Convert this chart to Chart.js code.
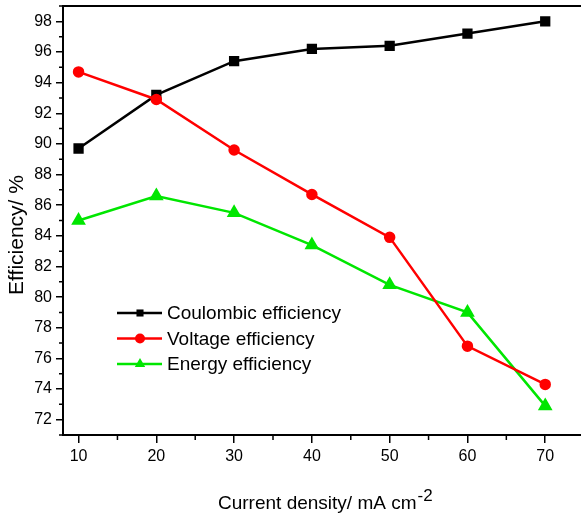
<!DOCTYPE html>
<html>
<head>
<meta charset="utf-8">
<script src="https://cdn.jsdelivr.net/npm/chart.js@4/dist/chart.umd.min.js"></script>
<style>
  body { margin: 0; background: #fff; }
  canvas { display: block; }
</style>
</head>
<body>
<canvas id="chart" width="581" height="513"></canvas>
<script>
// --- Daten ---
const currentDensity = [10, 20, 30, 40, 50, 60, 70];
const coulombic = [89.7, 93.2, 95.4, 96.2, 96.4, 97.2, 98.0];
const voltage = [94.7, 92.9, 89.6, 86.7, 83.9, 76.8, 74.3];
const energy = [85.0, 86.6, 85.5, 83.4, 80.8, 79.0, 72.9];

const xTicks = [10, 20, 30, 40, 50, 60, 70];
const xMinorTicks = [15, 25, 35, 45, 55, 65];
const yTicks = [72, 74, 76, 78, 80, 82, 84, 86, 88, 90, 92, 94, 96, 98];
const yMinorTicks = [71, 73, 75, 77, 79, 81, 83, 85, 87, 89, 91, 93, 95, 97, 99];

const seriesNames = ['Coulombic efficiency', 'Voltage efficiency', 'Energy efficiency'];
const FONT = '"Liberation Sans", Arial, sans-serif';
const GREEN = '#00e600';

function toPoints(ys) {
    return currentDensity.map((x, i) => ({ x: x, y: ys[i] }));
}

// --- Plugin: kleine Ticks, oberer Rand, Achsentitel, Legende ---
const decorPlugin = {
    id: 'decor',
    afterDraw(chart) {
        const ctx = chart.ctx;
        const area = chart.chartArea;
        const xs = chart.scales.x;
        const ys = chart.scales.y;
        ctx.save();

        // Minor ticks
        ctx.strokeStyle = '#000';
        ctx.lineWidth = 1.5;
        ctx.beginPath();
        for (let v of xMinorTicks) {
            const px = xs.getPixelForValue(v);
            ctx.moveTo(px, area.bottom);
            ctx.lineTo(px, area.bottom + 5);
        }
        for (let v of yMinorTicks) {
            const py = ys.getPixelForValue(v);
            ctx.moveTo(area.left, py);
            ctx.lineTo(area.left - 4, py);
        }
        ctx.stroke();

        // oberer Rahmen
        ctx.lineWidth = 2;
        ctx.beginPath();
        ctx.moveTo(area.left - 1, area.top);
        ctx.lineTo(chart.width, area.top);
        ctx.stroke();

        // Y-Titel
        ctx.fillStyle = '#000';
        ctx.font = '21px ' + FONT;
        ctx.textAlign = 'center';
        ctx.textBaseline = 'alphabetic';
        ctx.save();
        ctx.translate(23, 235);
        ctx.rotate(-Math.PI / 2);
        ctx.fillText('Efficiency/ %', 0, 0);
        ctx.restore();

        // X-Titel mit Hochzahl
        const main = 'Current density/ mA cm';
        ctx.textAlign = 'left';
        ctx.font = '19px ' + FONT;
        const w = ctx.measureText(main).width;
        const startX = 218;
        ctx.fillText(main, startX, 509);
        ctx.font = '17px ' + FONT;
        ctx.fillText('-2', startX + w + 1, 501);

        // Legende
        const colors = ['#000', '#ff0000', GREEN];
        const styles = ['rect', 'circle', 'triangle'];
        const radii = [5, 5, 6];
        ctx.font = '19px ' + FONT;
        ctx.textBaseline = 'middle';
        for (let i = 0; i < 3; i++) {
            const y = 313 + i * 25.5;
            ctx.strokeStyle = colors[i];
            ctx.fillStyle = colors[i];
            ctx.lineWidth = 2.5;
            ctx.beginPath();
            ctx.moveTo(117, y);
            ctx.lineTo(162, y);
            ctx.stroke();
            Chart.helpers.drawPoint(ctx, { pointStyle: styles[i], radius: radii[i], rotation: 0, borderWidth: 0 }, 140, y);
            ctx.fillStyle = '#000';
            ctx.fillText(seriesNames[i], 167, y + 1);
        }
        ctx.restore();
    }
};

const tickFont = { family: FONT, size: 16 };

new Chart(document.getElementById('chart'), {
    type: 'line',
    data: {
        datasets: [
            {
                label: seriesNames[0],
                data: toPoints(coulombic),
                borderColor: '#000',
                backgroundColor: '#000',
                pointStyle: 'rect',
                pointRadius: 5.5,
                borderWidth: 2.5,
                order: 1
            },
            {
                label: seriesNames[1],
                data: toPoints(voltage),
                borderColor: '#ff0000',
                backgroundColor: '#ff0000',
                pointStyle: 'circle',
                pointRadius: 4.5,
                borderWidth: 2.5,
                order: 0
            },
            {
                label: seriesNames[2],
                data: toPoints(energy),
                borderColor: GREEN,
                backgroundColor: GREEN,
                pointStyle: 'triangle',
                pointRadius: 6,
                borderWidth: 2.5,
                order: 2
            }
        ]
    },
    options: {
        responsive: false,
        animation: false,
        layout: { autoPadding: false, padding: { top: 6, right: 0, left: 0, bottom: 0 } },
        plugins: {
            legend: { display: false },
            tooltip: { enabled: false }
        },
        elements: { point: { borderWidth: 0 }, line: { tension: 0 } },
        scales: {
            x: {
                type: 'linear',
                min: 8,
                max: 74.6,
                afterBuildTicks: (s) => { s.ticks = xTicks.map(v => ({ value: v })); },
                afterFit: (s) => { s.height = 78; s.paddingLeft = 0; s.paddingRight = 0; },
                grid: { display: true, drawOnChartArea: false, drawTicks: true, tickLength: 8, color: '#000', lineWidth: 1.5 },
                border: { display: true, color: '#000', width: 2 },
                ticks: { color: '#000', font: tickFont, padding: 4, maxRotation: 0, autoSkip: false }
            },
            y: {
                type: 'linear',
                min: 71,
                max: 99,
                afterBuildTicks: (s) => { s.ticks = yTicks.map(v => ({ value: v })); },
                afterFit: (s) => { s.width = 63; s.paddingTop = 0; s.paddingBottom = 0; },
                grid: { display: true, drawOnChartArea: false, drawTicks: true, tickLength: 7, color: '#000', lineWidth: 1.5 },
                border: { display: true, color: '#000', width: 2 },
                ticks: { color: '#000', font: tickFont, padding: 4, autoSkip: false }
            }
        }
    },
    plugins: [decorPlugin]
});
</script>
</body>
</html>
